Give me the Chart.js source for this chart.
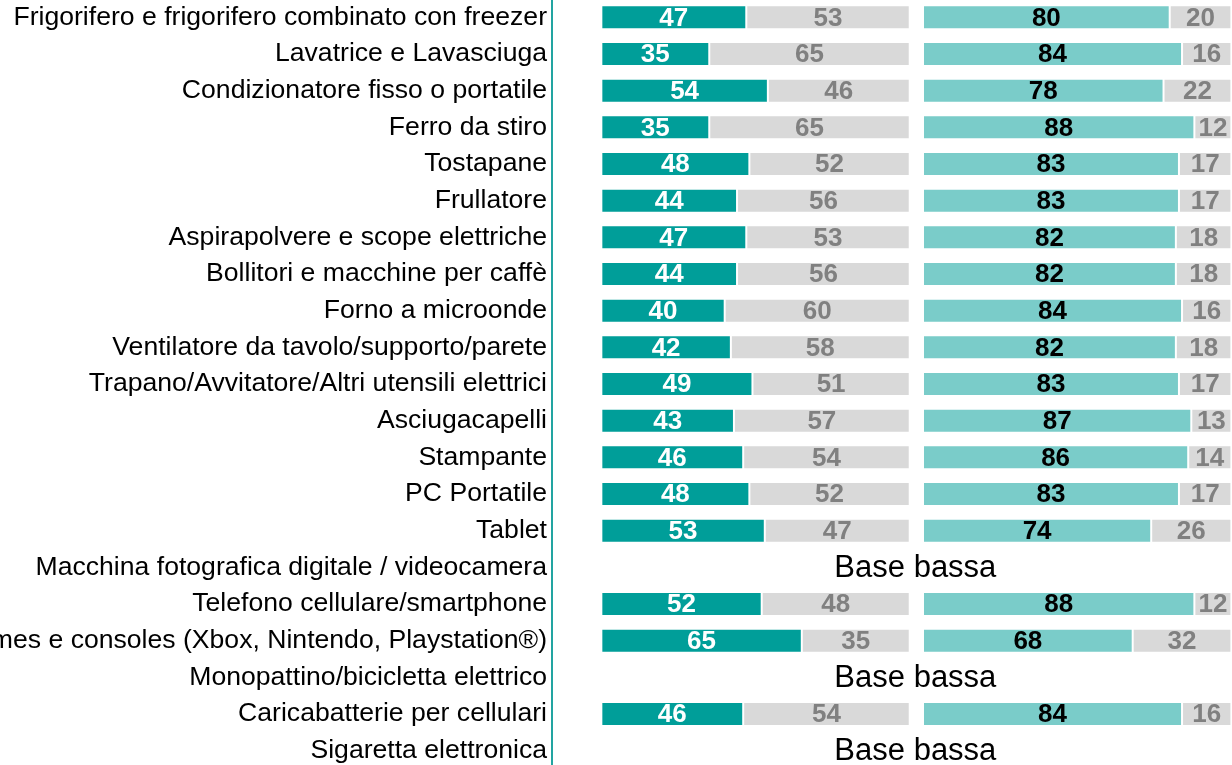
<!DOCTYPE html>
<html lang="it">
<head>
<meta charset="UTF-8">
<title>Grafico</title>
<script src="https://cdn.jsdelivr.net/npm/chart.js@4.4.1/dist/chart.umd.min.js"></script>
<style>
    html, body { margin: 0; padding: 0; background: #ffffff; overflow: hidden; }
    #wrap { position: absolute; left: 0; top: -1px; width: 1232px; height: 770px; }
</style>
</head>
<body>
<div id="wrap"><canvas id="chart"></canvas></div>
<script>
/* Chart data */

const categories = [
    'Frigorifero e frigorifero combinato con freezer',
    'Lavatrice e Lavasciuga',
    'Condizionatore fisso o portatile',
    'Ferro da stiro',
    'Tostapane',
    'Frullatore',
    'Aspirapolvere e scope elettriche',
    'Bollitori e macchine per caffè',
    'Forno a microonde',
    'Ventilatore da tavolo/supporto/parete',
    'Trapano/Avvitatore/Altri utensili elettrici',
    'Asciugacapelli',
    'Stampante',
    'PC Portatile',
    'Tablet',
    'Macchina fotografica digitale / videocamera',
    'Telefono cellulare/smartphone',
    'Videogames e consoles (Xbox, Nintendo, Playstation®)',
    'Monopattino/bicicletta elettrico',
    'Caricabatterie per cellulari',
    'Sigaretta elettronica'
];

// first block (dark teal / grey), null = "Base bassa"
const leftYes = [47, 35, 54, 35, 48, 44, 47, 44, 40, 42, 49, 43, 46, 48, 53, null, 52, 65, null, 46, null];
const leftNo  = [53, 65, 46, 65, 52, 56, 53, 56, 60, 58, 51, 57, 54, 52, 47, null, 48, 35, null, 54, null];

// second block (light teal / grey)
const rightYes = [80, 84, 78, 88, 83, 83, 82, 82, 84, 82, 83, 87, 86, 83, 74, null, 88, 68, null, 84, null];
const rightNo  = [20, 16, 22, 12, 17, 17, 18, 18, 16, 18, 17, 13, 14, 17, 26, null, 12, 32, null, 16, null];

const lowBaseText = 'Base bassa';

// Colors
const DARK_TEAL = '#009E99';
const LIGHT_TEAL = '#7ACCC9';
const GREY = '#D9D9D9';
const GREY_TEXT = '#808080';
const AXIS_COLOR = '#22A4A1';

// second block starts a bit after the first one ends
const OFFSET = 104.3;

// floating bar ranges
function ranges(start, first, second) {
    return first.map((v, i) => {
        if (v === null) return null;
        return second === null ? [start, start + v] : [start + v, start + v + second[i]];
    });
}

function makeDataset(data, color, textColor, values) {
    return {
        data: data,
        backgroundColor: color,
        borderColor: '#ffffff',
        borderWidth: 1,
        borderSkipped: false,
        grouped: false,
        barPercentage: 0.8,
        categoryPercentage: 0.82,
        valueText: values,
        textColor: textColor
    };
}

// Draw values inside bars + "Base bassa" notes
const valueLabels = {
    id: 'valueLabels',
    afterDatasetsDraw(chart) {
        const ctx = chart.ctx;
        ctx.save();
        ctx.textAlign = 'center';
        ctx.textBaseline = 'middle';
        ctx.font = 'bold 26px "Liberation Sans", Arial, sans-serif';

        chart.data.datasets.forEach((ds, di) => {
            const meta = chart.getDatasetMeta(di);
            meta.data.forEach((bar, i) => {
                const v = ds.valueText[i];
                if (v === null) return;
                ctx.fillStyle = ds.textColor;
                ctx.fillText(String(v), (bar.x + bar.base) / 2, bar.y + 1);
            });
        });

        const xScale = chart.scales.x;
        const yScale = chart.scales.y;
        const midX = xScale.getPixelForValue((OFFSET + 100) / 2);
        ctx.font = '31px "Liberation Sans", Arial, sans-serif';
        ctx.fillStyle = '#000000';
        leftYes.forEach((v, i) => {
            if (v === null) {
                ctx.fillText(lowBaseText, midX - 1, yScale.getPixelForValue(i) + 1);
            }
        });
        ctx.restore();
    }
};

const ctx = document.getElementById('chart').getContext('2d');

const chart = new Chart(ctx, {
    type: 'bar',
    data: {
        labels: categories,
        datasets: [
            makeDataset(ranges(0, leftYes, null), DARK_TEAL, '#ffffff', leftYes),
            makeDataset(ranges(0, leftYes, leftNo), GREY, GREY_TEXT, leftNo),
            makeDataset(ranges(OFFSET, rightYes, null), LIGHT_TEAL, '#000000', rightYes),
            makeDataset(ranges(OFFSET, rightYes, rightNo), GREY, GREY_TEXT, rightNo)
        ]
    },
    options: {
        indexAxis: 'y',
        responsive: true,
        maintainAspectRatio: false,
        animation: false,
        layout: { padding: 0 },
        plugins: {
            legend: { display: false },
            tooltip: { enabled: false }
        },
        scales: {
            x: {
                display: false,
                min: -16,
                max: 204.5
            },
            y: {
                offset: true,
                grid: { display: false, drawTicks: false, tickLength: 0 },
                border: { display: true, color: AXIS_COLOR, width: 2 },
                ticks: {
                    color: '#000000',
                    padding: 5,
                    font: { family: '"Liberation Sans", Arial, sans-serif', size: 26.6 }
                },
                afterFit(scale) {
                    // fixed label column, no extra room for first/last label
                    scale.width = 552;
                    scale.paddingTop = 0;
                    scale.paddingBottom = 0;
                }
            }
        }
    },
    plugins: [valueLabels]
});
</script>
</body>
</html>
